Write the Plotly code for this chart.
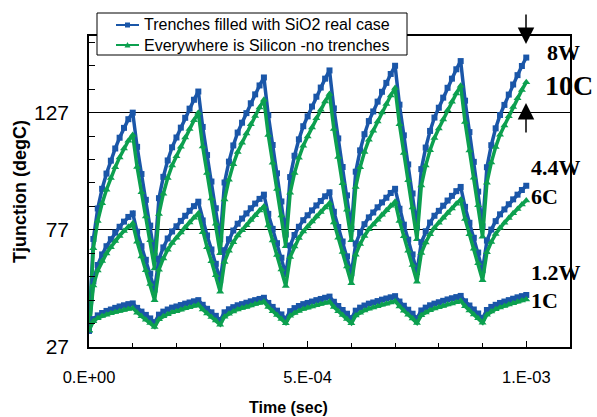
import plotly.graph_objects as go

# time samples (sec), 1e-5 step from 0 to 1e-3
time = [i * 1e-5 for i in range(101)]

# 8W case
trench_8w = [
    34.0, 73.1, 86.1, 94.5, 101.0, 106.5, 111.7, 116.3, 120.5, 124.2, 127.0,
    112.4, 100.8, 89.8, 78.8, 66.0,
    90.5, 99.6, 106.6, 112.2, 116.4, 120.6, 124.8, 128.7, 132.5, 136.0,
    120.9, 108.9, 97.6, 86.2, 73.0,
    97.2, 106.1, 113.0, 118.5, 122.7, 126.8, 131.0, 134.8, 138.6, 142.0,
    125.9, 113.2, 101.1, 89.1, 75.0,
    99.5, 108.6, 115.6, 121.2, 125.4, 129.6, 133.8, 137.7, 141.5, 145.0,
    128.8, 116.0, 103.8, 91.7, 77.5,
    101.8, 110.9, 117.8, 123.4, 127.5, 131.7, 135.9, 139.7, 143.5, 147.0,
    130.4, 117.3, 104.9, 92.5, 78.0,
    102.9, 112.1, 119.2, 124.9, 129.1, 133.4, 137.6, 141.5, 145.5, 149.0,
    132.1, 118.7, 106.0, 93.3, 78.5,
    103.7, 113.1, 120.3, 126.0, 130.3, 134.7, 139.0, 143.0, 146.9, 150.5,
]
silicon_8w = [
    34.0, 69.1, 80.8, 88.3, 94.1, 99.1, 103.7, 107.9, 111.7, 115.0, 117.5,
    103.8, 93.0, 82.7, 72.5, 60.5,
    83.8, 92.4, 99.1, 104.4, 108.4, 112.4, 116.4, 120.0, 123.7, 127.0,
    112.6, 101.2, 90.4, 79.6, 67.0,
    89.9, 98.4, 105.0, 110.2, 114.2, 118.1, 122.0, 125.6, 129.2, 132.5,
    117.5, 105.6, 94.4, 83.1, 70.0,
    92.8, 101.2, 107.7, 112.9, 116.8, 120.7, 124.6, 128.2, 131.8, 135.0,
    120.0, 108.1, 96.9, 85.6, 72.5,
    95.3, 103.7, 110.2, 115.4, 119.3, 123.2, 127.1, 130.7, 134.3, 137.5,
    122.0, 109.8, 98.2, 86.5, 73.0,
    95.9, 104.4, 111.0, 116.2, 120.2, 124.1, 128.0, 131.6, 135.2, 138.5,
    123.0, 110.8, 99.2, 87.5, 74.0,
    97.1, 105.7, 112.3, 117.6, 121.5, 125.5, 129.4, 133.1, 136.7, 140.0,
]

# 4.4W case
trench_4w = [
    34.0, 55.0, 62.0, 66.5, 70.0, 73.0, 75.8, 78.3, 80.5, 82.5, 84.0,
    76.2, 70.0, 64.2, 58.3, 51.5,
    64.6, 69.5, 73.3, 76.3, 78.5, 80.8, 83.0, 85.1, 87.1, 89.0,
    81.0, 74.6, 68.6, 62.5, 55.5,
    68.3, 73.0, 76.7, 79.6, 81.8, 84.0, 86.2, 88.2, 90.2, 92.0,
    83.8, 77.4, 71.3, 65.1, 58.0,
    70.3, 74.8, 78.3, 81.1, 83.2, 85.3, 87.4, 89.3, 91.3, 93.0,
    84.7, 78.2, 72.0, 65.7, 58.5,
    71.1, 75.8, 79.4, 82.3, 84.4, 86.6, 88.7, 90.7, 92.7, 94.5,
    86.0, 79.2, 72.8, 66.5, 59.0,
    71.7, 76.4, 80.1, 83.0, 85.1, 87.3, 89.5, 91.5, 93.5, 95.3,
    86.8, 80.0, 73.6, 67.3, 59.8,
    72.4, 77.1, 80.7, 83.6, 85.7, 87.9, 90.0, 92.0, 94.0, 95.8,
]
silicon_4w = [
    34.0, 53.2, 59.6, 63.7, 66.9, 69.6, 72.2, 74.4, 76.5, 78.3, 79.7,
    71.9, 65.6, 59.8, 53.9, 47.0,
    60.0, 64.8, 68.5, 71.4, 73.6, 75.9, 78.1, 80.1, 82.2, 84.0,
    76.0, 69.6, 63.6, 57.6, 50.6,
    63.3, 68.1, 71.7, 74.6, 76.8, 79.0, 81.2, 83.2, 85.2, 87.0,
    78.8, 72.4, 66.3, 60.1, 53.0,
    65.4, 69.9, 73.5, 76.3, 78.4, 80.5, 82.7, 84.6, 86.5, 88.3,
    80.1, 73.6, 67.5, 61.4, 54.2,
    66.4, 70.9, 74.4, 77.2, 79.3, 81.3, 83.4, 85.3, 87.3, 89.0,
    80.8, 74.3, 68.1, 62.0, 54.8,
    67.1, 71.6, 75.1, 77.9, 80.0, 82.1, 84.2, 86.1, 88.1, 89.8,
    81.6, 75.1, 68.9, 62.7, 55.5,
    67.4, 71.8, 75.2, 77.9, 80.0, 82.0, 84.1, 85.9, 87.8, 89.5,
]

# 1.2W case
trench_1w = [
    34.0, 38.9, 40.5, 41.5, 42.4, 43.0, 43.7, 44.3, 44.8, 45.3, 45.6,
    43.7, 42.1, 40.7, 39.2, 37.5,
    40.8, 42.1, 43.0, 43.8, 44.3, 44.9, 45.5, 46.0, 46.5, 47.0,
    45.0, 43.3, 41.8, 40.3, 38.5,
    41.8, 43.1, 44.0, 44.8, 45.3, 45.9, 46.5, 47.0, 47.5, 48.0,
    45.8, 44.1, 42.5, 40.9, 39.0,
    42.3, 43.6, 44.5, 45.3, 45.8, 46.4, 47.0, 47.5, 48.0, 48.5,
    46.3, 44.5, 42.8, 41.2, 39.2,
    42.5, 43.8, 44.7, 45.5, 46.0, 46.6, 47.2, 47.7, 48.2, 48.7,
    46.4, 44.6, 42.9, 41.2, 39.2,
    42.6, 43.8, 44.8, 45.5, 46.1, 46.7, 47.3, 47.8, 48.3, 48.8,
    46.5, 44.7, 43.0, 41.3, 39.3,
    42.8, 44.1, 45.0, 45.8, 46.4, 47.0, 47.6, 48.2, 48.7, 49.2,
]
silicon_1w = [
    34.0, 38.0, 39.3, 40.2, 40.8, 41.4, 41.9, 42.4, 42.8, 43.2, 43.5,
    41.6, 40.1, 38.6, 37.2, 35.5,
    38.8, 40.1, 41.0, 41.8, 42.3, 42.9, 43.5, 44.0, 44.5, 45.0,
    43.0, 41.3, 39.8, 38.3, 36.5,
    39.9, 41.2, 42.2, 43.0, 43.6, 44.1, 44.7, 45.3, 45.8, 46.3,
    44.1, 42.3, 40.7, 39.0, 37.1,
    40.3, 41.5, 42.4, 43.2, 43.7, 44.3, 44.8, 45.3, 45.8, 46.3,
    44.1, 42.3, 40.7, 39.0, 37.1,
    40.4, 41.6, 42.6, 43.3, 43.9, 44.4, 45.0, 45.5, 46.0, 46.5,
    44.3, 42.5, 40.8, 39.2, 37.2,
    40.5, 41.7, 42.7, 43.4, 44.0, 44.5, 45.1, 45.6, 46.1, 46.6,
    44.4, 42.6, 40.9, 39.3, 37.3,
    40.8, 42.1, 43.1, 43.9, 44.5, 45.1, 45.7, 46.3, 46.8, 47.3,
]

series_names = ["Trenches filled with SiO2 real case", "Everywhere is Silicon -no trenches"]
x_tick_vals = [0, 5e-4, 1e-3]
x_tick_text = ["0.E+00", "5.E-04", "1.E-03"]
power_labels = ["8W", "10C", "4.4W", "6C", "1.2W", "1C"]

BLUE = "#1A56A8"
GREEN = "#0CA04F"

fig = go.Figure()
pairs = [(trench_8w, silicon_8w), (trench_4w, silicon_4w), (trench_1w, silicon_1w)]
for i, (tr, si) in enumerate(pairs):
    fig.add_trace(go.Scatter(
        x=time, y=tr, mode="lines+markers", name=series_names[0], showlegend=False,
        line=dict(color=BLUE, width=3.5),
        marker=dict(symbol="square", size=6, color=BLUE)))
    fig.add_trace(go.Scatter(
        x=time, y=si, mode="lines+markers", name=series_names[1], showlegend=False,
        line=dict(color=GREEN, width=3.5),
        marker=dict(symbol="triangle-up", size=7, color=GREEN)))

L, R, T, B = 89, 27, 36, 70
W, H = 597, 417
pw, ph = W - L - R, H - T - B

def px(xp):
    return (xp - L) / pw

def py(yp):
    return (H - B - yp) / ph

sans = "Liberation Sans, Arial, sans-serif"
serif = "Liberation Serif, Times New Roman, serif"

annotations = []
shapes = []

# hand-drawn legend box (white, black border)
shapes.append(dict(type="rect", xref="paper", yref="paper",
                   x0=px(97), x1=px(407), y0=py(55), y1=py(13),
                   fillcolor="white", line=dict(color="black", width=1), layer="above"))
legend_rows = [(25, BLUE, "square"), (45, GREEN, "triangle")]
for name, (yrow, col, sym) in zip(series_names, legend_rows):
    shapes.append(dict(type="line", xref="paper", yref="paper",
                       x0=px(116), x1=px(139), y0=py(yrow), y1=py(yrow),
                       line=dict(color=col, width=2), layer="above"))
    if sym == "square":
        shapes.append(dict(type="rect", xref="paper", yref="paper",
                           x0=px(125), x1=px(130), y0=py(yrow + 2.5), y1=py(yrow - 2.5),
                           fillcolor=col, line=dict(color=col, width=0), layer="above"))
    else:
        path = "M %f,%f L %f,%f L %f,%f Z" % (px(124.5), py(yrow + 2.5), px(130.5), py(yrow + 2.5),
                                               px(127.5), py(yrow - 3))
        shapes.append(dict(type="path", xref="paper", yref="paper", path=path,
                           fillcolor=col, line=dict(color=col, width=0), layer="above"))
    annotations.append(dict(text=name, x=px(142), y=py(yrow), xref="paper", yref="paper",
                            xanchor="left", yanchor="middle", showarrow=False,
                            font=dict(family=sans, size=16, color="black")))

label_pos = [(545, 52, 22), (543, 86, 28), (529, 167, 22), (529, 197, 22), (529, 272, 22), (529, 300, 22)]
for txt, (xp, yp, fs) in zip(power_labels, label_pos):
    annotations.append(dict(text="<b>%s</b>" % txt, x=px(xp), y=py(yp), xref="paper", yref="paper",
                            xanchor="left", yanchor="middle", showarrow=False,
                            font=dict(family=serif, size=fs, color="black")))
# arrows
annotations.append(dict(text="", x=px(526), y=py(44), xref="paper", yref="paper",
                        ax=0, ay=-31, showarrow=True, arrowhead=2, arrowsize=2.2,
                        arrowwidth=1.5, arrowcolor="black"))
annotations.append(dict(text="", x=px(526), y=py(103), xref="paper", yref="paper",
                        ax=0, ay=31, showarrow=True, arrowhead=2, arrowsize=2.2,
                        arrowwidth=1.5, arrowcolor="black"))
# axis titles
annotations.append(dict(text="<b>Time (sec)</b>", x=px(288), y=py(407), xref="paper", yref="paper",
                        xanchor="center", yanchor="middle", showarrow=False,
                        font=dict(family=sans, size=16, color="black")))
annotations.append(dict(text="<b>Tjunction (degC)</b>", x=px(20), y=py(192), xref="paper", yref="paper",
                        xanchor="center", yanchor="middle", showarrow=False, textangle=-90,
                        font=dict(family=sans, size=18, color="black")))

fig.update_layout(
    width=W, height=H,
    margin=dict(l=L, r=R, t=T, b=B, pad=0, autoexpand=False),
    paper_bgcolor="white", plot_bgcolor="white",
    font=dict(family=sans, color="black"),
    showlegend=False,
    annotations=annotations,
    shapes=shapes,
)
fig.update_xaxes(
    range=[0, 1.1e-3], tickvals=x_tick_vals, ticktext=x_tick_text, automargin=False,
    showline=True, linecolor="black", linewidth=1.5, mirror=True,
    ticks="inside", ticklen=6, tickcolor="black", showgrid=False, zeroline=False,
    tickfont=dict(size=16.5), ticklabelstandoff=14,
    minor=dict(dtick=1e-4, tick0=0, ticks="inside", ticklen=4, tickcolor="black"),
)
fig.update_yaxes(
    range=[27, 159.7], tick0=27, dtick=50, automargin=False,
    showline=True, linecolor="black", linewidth=1.5, mirror=True,
    ticks="inside", ticklen=6, tickcolor="black",
    showgrid=True, gridcolor="black", gridwidth=1, zeroline=False,
    tickfont=dict(size=21), ticklabelstandoff=14,
    minor=dict(dtick=10, tick0=27, ticks="inside", ticklen=6, tickcolor="black"),
)

fig.write_html("out.html", config={"displayModeBar": False},
               post_script="document.body.style.margin='0';")
